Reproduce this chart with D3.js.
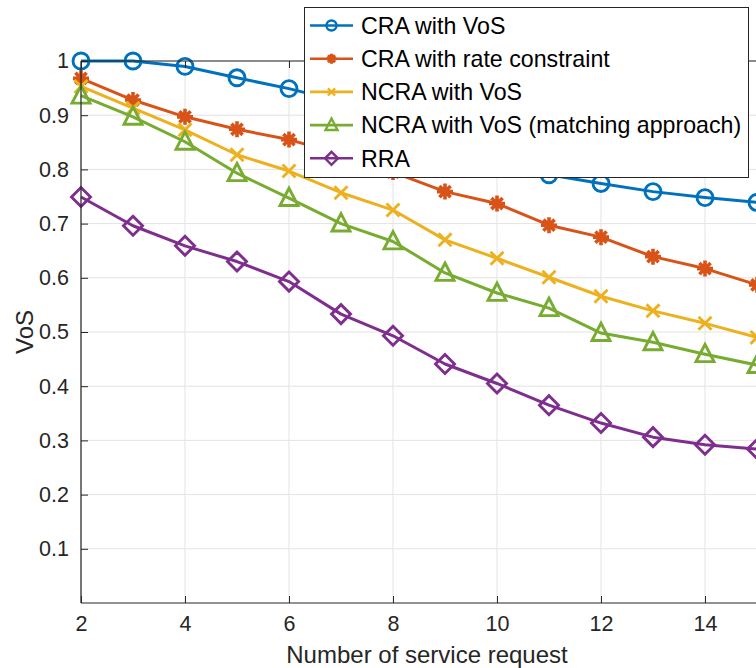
<!DOCTYPE html>
<html>
<head>
<meta charset="utf-8">
<script src="https://cdn.jsdelivr.net/npm/d3@7"></script>
<style>
  body { margin: 0; background: #fff; }
  text { font-family: "Liberation Sans", Arial, Helvetica, sans-serif; }
</style>
</head>
<body>
<svg id="chart" width="756" height="668"></svg>
<script>
// Number of service requests (x axis)
const requests = [2, 3, 4, 5, 6, 7, 8, 9, 10, 11, 12, 13, 14, 15];

// VoS per allocation scheme
const craVoS      = [1.000, 1.000, 0.990, 0.969, 0.949, 0.925, 0.895, 0.860, 0.822, 0.790, 0.774, 0.759, 0.748, 0.739];
const craRate     = [0.968, 0.928, 0.897, 0.874, 0.855, 0.828, 0.795, 0.759, 0.737, 0.697, 0.675, 0.639, 0.617, 0.587];
const ncraVoS     = [0.953, 0.913, 0.873, 0.827, 0.797, 0.757, 0.725, 0.670, 0.636, 0.601, 0.566, 0.539, 0.516, 0.490];
const ncraMatch   = [0.936, 0.897, 0.851, 0.793, 0.747, 0.700, 0.667, 0.609, 0.572, 0.544, 0.498, 0.481, 0.459, 0.439];
const rra         = [0.749, 0.696, 0.659, 0.630, 0.593, 0.533, 0.493, 0.441, 0.405, 0.365, 0.332, 0.306, 0.292, 0.284];

const seriesNames = ["CRA with VoS", "CRA with rate constraint", "NCRA with VoS",
                     "NCRA with VoS (matching approach)", "RRA"];
const seriesColors = ["#0072BD", "#D95319", "#EDB120", "#77AC30", "#7E2F8E"];
const seriesMarkers = ["circle", "asterisk", "cross", "triangle", "diamond"];

const xTicks = [2, 4, 6, 8, 10, 12, 14];
const yTicks = [0.1, 0.2, 0.3, 0.4, 0.5, 0.6, 0.7, 0.8, 0.9, 1];

const series = [craVoS, craRate, ncraVoS, ncraMatch, rra].map((vals, i) => ({
  name: seriesNames[i],
  color: seriesColors[i],
  marker: seriesMarkers[i],
  points: requests.map((r, j) => ({ x: r, y: vals[j] }))
}));

const svg = d3.select("#chart");
const plot = { left: 81, right: 757, top: 61, bottom: 603 };
const axisColor = "#262626";

const x = d3.scaleLinear().domain([2, 15]).range([plot.left, plot.right]);
const y = d3.scaleLinear().domain([0, 1]).range([plot.bottom, plot.top]);

// Grid
const grid = svg.append("g").attr("stroke", "#e3e3e3").attr("stroke-width", 1);
grid.selectAll("line.gx").data(xTicks).join("line")
  .attr("x1", d => x(d)).attr("x2", d => x(d))
  .attr("y1", plot.top).attr("y2", plot.bottom);
grid.selectAll("line.gy").data(yTicks).join("line")
  .attr("x1", plot.left).attr("x2", plot.right)
  .attr("y1", d => y(d)).attr("y2", d => y(d));

// Marker path generators (centered at 0,0)
function markerPath(type, s) {
  switch (type) {
    case "circle":
      return `M${s},0A${s},${s} 0 1,1 ${-s},0A${s},${s} 0 1,1 ${s},0Z`;
    case "diamond":
      return `M0,${-s}L${s},0L0,${s}L${-s},0Z`;
    case "triangle": {
      const h = s * 1.1;
      return `M0,${-h}L${s},${h * 0.75}L${-s},${h * 0.75}Z`;
    }
    case "cross": {
      const c = s * 0.72;
      return `M${-c},${-c}L${c},${c}M${-c},${c}L${c},${-c}`;
    }
    case "asterisk": {
      const c = s * 0.7;
      return `M${-s},0L${s},0M0,${-s}L0,${s}M${-c},${-c}L${c},${c}M${-c},${c}L${c},${-c}`;
    }
  }
}
const markerSize = { circle: 8, diamond: 9.5, triangle: 9, cross: 9, asterisk: 8 };

// Lines and markers
const line = d3.line().x(d => x(d.x)).y(d => y(d.y));
const lines = svg.append("g");
series.forEach(s => {
  const g = lines.append("g");
  g.append("path")
    .datum(s.points)
    .attr("d", line)
    .attr("fill", "none")
    .attr("stroke", s.color)
    .attr("stroke-width", 3)
    .attr("stroke-linejoin", "round");
  g.selectAll("path.m").data(s.points).join("path")
    .attr("class", "m")
    .attr("transform", d => `translate(${x(d.x)},${y(d.y)})`)
    .attr("d", markerPath(s.marker, markerSize[s.marker]))
    .attr("fill", "none")
    .attr("stroke", s.color)
    .attr("stroke-width", s.marker === "asterisk" ? 3.6 : 2.9)
    .attr("stroke-linejoin", "miter");
});

// Axes (inward ticks, box)
const xAxis = svg.append("g")
  .attr("transform", `translate(0,${plot.bottom})`)
  .call(d3.axisBottom(x).tickValues(xTicks).tickSize(-7).tickPadding(13));
const xTop = svg.append("g")
  .attr("transform", `translate(0,${plot.top})`)
  .call(d3.axisTop(x).tickValues(xTicks).tickSize(-7).tickFormat(""));
const yAxis = svg.append("g")
  .attr("transform", `translate(${plot.left},0)`)
  .call(d3.axisLeft(y).tickValues(yTicks).tickSize(-7).tickPadding(12).tickFormat(d3.format("~g")));

[xAxis, xTop, yAxis].forEach(a => {
  a.select(".domain").remove();
  a.selectAll(".tick line").attr("stroke", axisColor).attr("stroke-width", 1);
  a.selectAll(".tick text").attr("fill", axisColor).attr("font-size", 21.5);
});

const frame = svg.append("g").attr("stroke", axisColor).attr("stroke-width", 1.2).attr("fill", "none");
frame.append("line").attr("x1", plot.left).attr("x2", plot.left).attr("y1", plot.top).attr("y2", plot.bottom);
frame.append("line").attr("x1", plot.left).attr("x2", plot.right).attr("y1", plot.bottom).attr("y2", plot.bottom);
frame.append("line").attr("x1", plot.left).attr("x2", plot.right).attr("y1", plot.top).attr("y2", plot.top);

// Axis labels
svg.append("text")
  .attr("x", 427).attr("y", 663)
  .attr("text-anchor", "middle")
  .attr("font-size", 24)
  .attr("fill", axisColor)
  .text("Number of service request");
svg.append("text")
  .attr("transform", "translate(33,332) rotate(-90)")
  .attr("text-anchor", "middle")
  .attr("font-size", 24)
  .attr("fill", axisColor)
  .text("VoS");

// Legend
const legend = svg.append("g");
legend.append("rect")
  .attr("x", 304.5).attr("y", 7.5).attr("width", 444).attr("height", 170)
  .attr("fill", "#fff").attr("stroke", axisColor).attr("stroke-width", 1);
const legendMarkerSize = { circle: 5, diamond: 6.5, triangle: 6, cross: 5, asterisk: 5 };
series.forEach((s, i) => {
  const ly = 25.5 + i * 33.2;
  const row = legend.append("g").attr("transform", `translate(0,${ly})`);
  row.append("line")
    .attr("x1", 310).attr("x2", 353).attr("y1", 0).attr("y2", 0)
    .attr("stroke", s.color).attr("stroke-width", 2.6);
  row.append("path")
    .attr("transform", "translate(331.5,0)")
    .attr("d", markerPath(s.marker, legendMarkerSize[s.marker]))
    .attr("fill", "none").attr("stroke", s.color)
    .attr("stroke-width", s.marker === "asterisk" ? 3 : 2.4);
  row.append("text")
    .attr("x", 361).attr("y", 0).attr("dy", "0.36em")
    .attr("font-size", 23.2).attr("fill", "#000")
    .text(s.name);
});
</script>
</body>
</html>
